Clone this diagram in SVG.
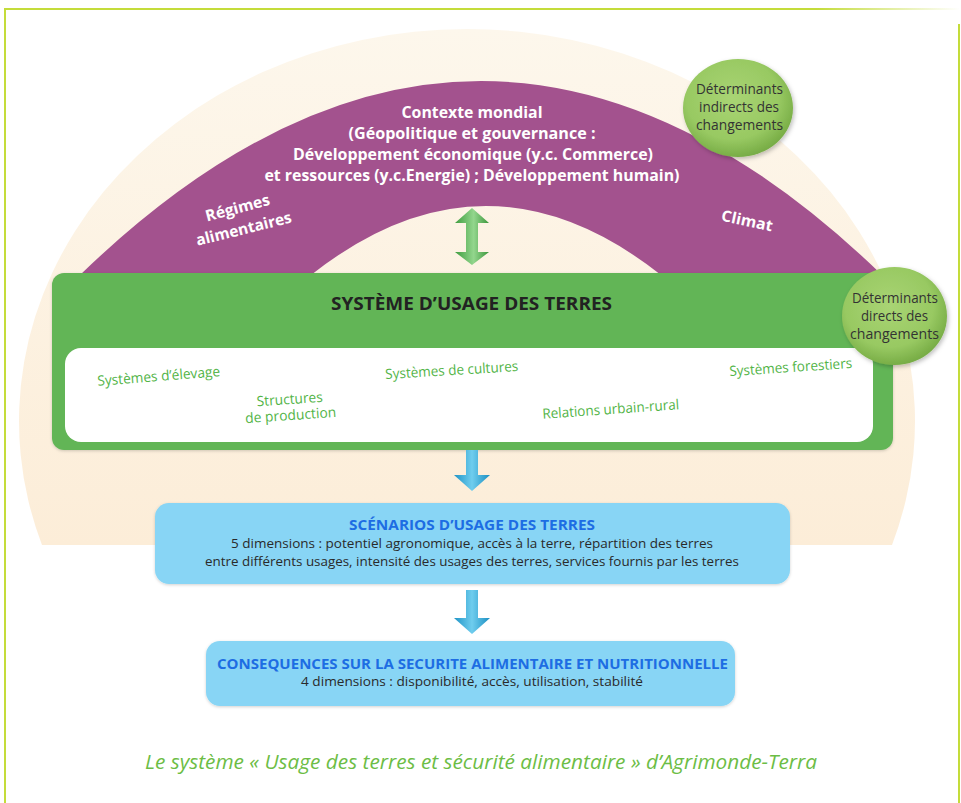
<svg xmlns="http://www.w3.org/2000/svg" width="961" height="803" viewBox="0 0 961 803">
<defs>
<style>
.t{font-family:"Open Sans","Noto Sans","Liberation Sans",sans-serif;text-anchor:middle}
.pw{fill:#ffffff;font-weight:bold;font-size:15.5px}
.gi{fill:#52b447;font-size:14px}
.ct{fill:#333333;font-size:14px}
.bt{fill:#1d6de3;font-weight:bold;font-size:15px}
.bb{fill:#2a2a2a;font-size:13.5px}
.frame{stroke:#c4dc3a;stroke-width:2;fill:none}
</style>
<linearGradient id="cream" x1="0" y1="0" x2="0" y2="1">
<stop offset="0" stop-color="#fdf7ec"/>
<stop offset="1" stop-color="#fcedd8"/>
</linearGradient>
<linearGradient id="topline" x1="0" y1="0" x2="1" y2="0">
<stop offset="0" stop-color="#c4dc3a"/>
<stop offset="0.85" stop-color="#c4dc3a"/>
<stop offset="1" stop-color="#c4dc3a" stop-opacity="0"/>
</linearGradient>
<radialGradient id="ball" cx="0.45" cy="0.4" r="0.6">
<stop offset="0" stop-color="#a9d474"/>
<stop offset="0.7" stop-color="#98c962"/>
<stop offset="1" stop-color="#78ad46"/>
</radialGradient>
<linearGradient id="garrow" x1="0" y1="0" x2="1" y2="0">
<stop offset="0" stop-color="#3f9d3f"/>
<stop offset="0.55" stop-color="#93d68d"/>
<stop offset="1" stop-color="#3b963b"/>
</linearGradient>
<linearGradient id="barrow" x1="0" y1="0" x2="1" y2="0">
<stop offset="0" stop-color="#1f94c6"/>
<stop offset="0.5" stop-color="#6fcdee"/>
<stop offset="1" stop-color="#1b8fc2"/>
</linearGradient>
<filter id="sh" x="-20%" y="-20%" width="140%" height="140%">
<feDropShadow dx="1.5" dy="2" stdDeviation="2" flood-color="#000" flood-opacity="0.25"/>
</filter>
<filter id="sh2" x="-5%" y="-10%" width="110%" height="120%">
<feDropShadow dx="0" dy="1" stdDeviation="1.5" flood-color="#000" flood-opacity="0.18"/>
</filter>
</defs>

<g id="frame">
<rect x="4" y="8" width="956" height="2" fill="url(#topline)"/>
<line class="frame" x1="5" y1="8" x2="5" y2="803"/>
<line class="frame" x1="959" y1="24" x2="959" y2="803"/>
</g>

<g id="background">
<path d="M42,545 A448,392 0 1 1 892,545 Z" fill="url(#cream)"/>
</g>

<g id="contexte">
<path d="M80,275 Q481,-113 882,275 L661,275 Q486,137 311,275 Z" fill="#a3528e"/>
<text class="t pw" x="472" y="118" textLength="141" lengthAdjust="spacingAndGlyphs">Contexte mondial</text>
<text class="t pw" x="472" y="139" textLength="247" lengthAdjust="spacingAndGlyphs">(Géopolitique et gouvernance :</text>
<text class="t pw" x="473" y="160" textLength="360" lengthAdjust="spacingAndGlyphs">Développement économique (y.c. Commerce)</text>
<text class="t pw" x="472" y="181" textLength="415" lengthAdjust="spacingAndGlyphs">et ressources (y.c.Energie) ; Développement humain)</text>
<text class="t pw" transform="translate(239,213) rotate(-15)" textLength="66" lengthAdjust="spacingAndGlyphs">Régimes</text>
<text class="t pw" transform="translate(245,234) rotate(-14)" textLength="98" lengthAdjust="spacingAndGlyphs">alimentaires</text>
<text class="t pw" transform="translate(746,226) rotate(12)" textLength="52" lengthAdjust="spacingAndGlyphs">Climat</text>
</g>

<g id="systeme">
<rect x="52" y="273" width="841" height="177" rx="12" fill="#62b557" filter="url(#sh2)"/>
<rect x="65" y="348" width="808" height="94" rx="16" fill="#ffffff"/>
<text class="t" x="471.5" y="310" fill="#222222" font-weight="bold" font-size="17.5px" textLength="281" lengthAdjust="spacingAndGlyphs">SYSTÈME D’USAGE DES TERRES</text>
<text class="t gi" transform="translate(159,381) rotate(-4.5)" textLength="123" lengthAdjust="spacingAndGlyphs">Systèmes d’élevage</text>
<text class="t gi" transform="translate(290,404) rotate(-4)" textLength="66" lengthAdjust="spacingAndGlyphs">Structures</text>
<text class="t gi" transform="translate(291,420) rotate(-4)" textLength="91" lengthAdjust="spacingAndGlyphs">de production</text>
<text class="t gi" transform="translate(452,375) rotate(-3.5)" textLength="133" lengthAdjust="spacingAndGlyphs">Systèmes de cultures</text>
<text class="t gi" transform="translate(611,414) rotate(-4)" textLength="137" lengthAdjust="spacingAndGlyphs">Relations urbain-rural</text>
<text class="t gi" transform="translate(791,372) rotate(-3.8)" textLength="123" lengthAdjust="spacingAndGlyphs">Systèmes forestiers</text>
</g>

<g id="det-indirects">
<ellipse cx="738" cy="108" rx="55" ry="49" fill="url(#ball)" filter="url(#sh)"/>
<text class="t ct" x="739.5" y="94" textLength="87" lengthAdjust="spacingAndGlyphs">Déterminants</text>
<text class="t ct" x="739" y="112" textLength="80" lengthAdjust="spacingAndGlyphs">indirects des</text>
<text class="t ct" x="739.5" y="130" textLength="87" lengthAdjust="spacingAndGlyphs">changements</text>
</g>

<g id="det-directs">
<ellipse cx="894.5" cy="316" rx="52.5" ry="49" fill="url(#ball)" filter="url(#sh)"/>
<text class="t ct" x="895" y="303" textLength="86" lengthAdjust="spacingAndGlyphs">Déterminants</text>
<text class="t ct" x="894.5" y="321" textLength="67" lengthAdjust="spacingAndGlyphs">directs des</text>
<text class="t ct" x="894.5" y="339" textLength="89" lengthAdjust="spacingAndGlyphs">changements</text>
</g>

<g id="scenarios">
<rect x="155" y="503" width="635" height="81" rx="14" fill="#88d5f5" filter="url(#sh2)"/>
<text class="t bt" x="472" y="530" textLength="246" lengthAdjust="spacingAndGlyphs">SCÉNARIOS D’USAGE DES TERRES</text>
<text class="t bb" x="472" y="548" textLength="482" lengthAdjust="spacingAndGlyphs">5 dimensions : potentiel agronomique, accès à la terre, répartition des terres</text>
<text class="t bb" x="472" y="566" textLength="534" lengthAdjust="spacingAndGlyphs">entre différents usages, intensité des usages des terres, services fournis par les terres</text>
</g>

<g id="consequences">
<rect x="206" y="641" width="529" height="65" rx="14" fill="#88d5f5" filter="url(#sh2)"/>
<text class="t bt" x="472.5" y="669" textLength="511" lengthAdjust="spacingAndGlyphs">CONSEQUENCES SUR LA SECURITE ALIMENTAIRE ET NUTRITIONNELLE</text>
<text class="t bb" x="472" y="686" textLength="342" lengthAdjust="spacingAndGlyphs">4 dimensions : disponibilité, accès, utilisation, stabilité</text>
</g>

<g id="connectors">
<path d="M472,208 L489,223 L478,223 L478,252 L489,252 L472,265 L455,252 L466,252 L466,223 L455,223 Z" fill="url(#garrow)"/>
<path d="M466,450 L478,450 L478,475 L490,475 L472,491 L454,475 L466,475 Z" fill="url(#barrow)"/>
<path d="M466,590 L478,590 L478,618 L490,618 L472,634 L454,618 L466,618 Z" fill="url(#barrow)"/>
</g>

<g id="caption">
<text class="t" x="481" y="769" fill="#6cbd45" font-style="italic" font-size="20px" textLength="672" lengthAdjust="spacingAndGlyphs">Le système « Usage des terres et sécurité alimentaire » d’Agrimonde-Terra</text>
</g>
</svg>
